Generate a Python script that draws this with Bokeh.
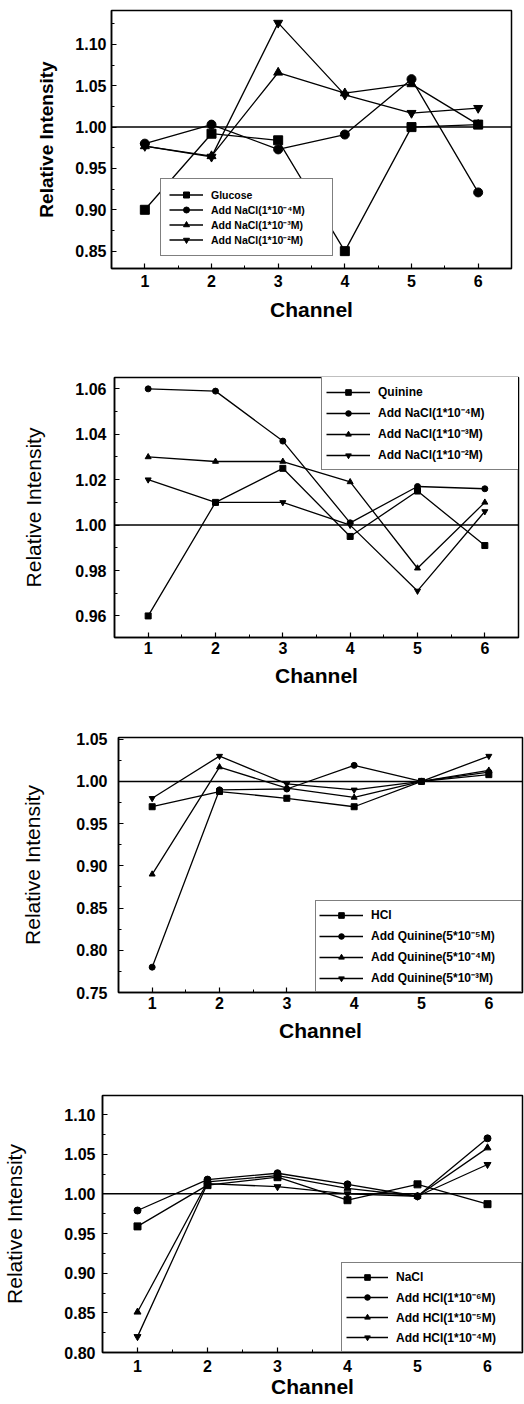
from bokeh.plotting import figure
from bokeh.models import Span, Legend, LegendItem, FixedTicker, NumeralTickFormatter, Range1d
from bokeh.embed import file_html
from bokeh.resources import INLINE

# ---------------- data ----------------
channels = [1, 2, 3, 4, 5, 6]
x_minor = [1.5, 2.5, 3.5, 4.5, 5.5]

# Panel 1: Glucose
p1_labels = ["Glucose", "Add NaCl(1*10⁻⁴M)", "Add NaCl(1*10⁻³M)", "Add NaCl(1*10⁻²M)"]
glucose = [0.900, 0.992, 0.984, 0.850, 1.000, 1.003]
glucose_nacl_1e4 = [0.980, 1.003, 0.973, 0.991, 1.058, 0.921]
glucose_nacl_1e3 = [0.977, 0.965, 1.066, 1.041, 1.052, 1.003]
glucose_nacl_1e2 = [0.977, 0.964, 1.126, 1.039, 1.017, 1.023]
p1_yticks = [0.85, 0.90, 0.95, 1.00, 1.05, 1.10]
p1_yminor = [0.825, 0.875, 0.925, 0.975, 1.025, 1.075, 1.125]

# Panel 2: Quinine
p2_labels = ["Quinine", "Add NaCl(1*10⁻⁴M)", "Add NaCl(1*10⁻³M)", "Add NaCl(1*10⁻²M)"]
quinine = [0.960, 1.010, 1.025, 0.995, 1.015, 0.991]
quinine_nacl_1e4 = [1.060, 1.059, 1.037, 1.001, 1.017, 1.016]
quinine_nacl_1e3 = [1.030, 1.028, 1.028, 1.019, 0.981, 1.010]
quinine_nacl_1e2 = [1.020, 1.010, 1.010, 1.000, 0.971, 1.006]
p2_yticks = [0.96, 0.98, 1.00, 1.02, 1.04, 1.06]
p2_yminor = [0.95, 0.97, 0.99, 1.01, 1.03, 1.05]

# Panel 3: HCl
p3_labels = ["HCl", "Add Quinine(5*10⁻⁵M)", "Add Quinine(5*10⁻⁴M)", "Add Quinine(5*10⁻³M)"]
hcl = [0.970, 0.988, 0.980, 0.970, 1.000, 1.008]
hcl_quinine_5e5 = [0.780, 0.990, 0.991, 1.019, 1.000, 1.011]
hcl_quinine_5e4 = [0.890, 1.017, 0.992, 0.981, 1.000, 1.013]
hcl_quinine_5e3 = [0.980, 1.030, 0.997, 0.990, 1.000, 1.030]
p3_yticks = [0.75, 0.80, 0.85, 0.90, 0.95, 1.00, 1.05]
p3_yminor = [0.775, 0.825, 0.875, 0.925, 0.975, 1.025]

# Panel 4: NaCl
p4_labels = ["NaCl", "Add HCl(1*10⁻⁶M)", "Add HCl(1*10⁻⁵M)", "Add HCl(1*10⁻⁴M)"]
nacl = [0.959, 1.011, 1.021, 0.992, 1.012, 0.987]
nacl_hcl_1e6 = [0.979, 1.018, 1.026, 1.012, 0.997, 1.070]
nacl_hcl_1e5 = [0.851, 1.015, 1.023, 1.007, 0.997, 1.058]
nacl_hcl_1e4 = [0.820, 1.013, 1.009, 1.000, 0.997, 1.037]
p4_yticks = [0.80, 0.85, 0.90, 0.95, 1.00, 1.05, 1.10]
p4_yminor = [0.825, 0.875, 0.925, 0.975, 1.025, 1.075]

FONT = "Liberation Sans"
MARKERS = ["square", "circle", "triangle", "inverted_triangle"]


def make_panel(series, labels, yticks, yminor, yrange, cfg):
    left, right, top, bottom = cfg["borders"]
    p = figure(width=524, height=cfg["height"],
               x_range=Range1d(start=0.5, end=6.5),
               y_range=Range1d(start=yrange[0], end=yrange[1]),
               output_backend="svg", toolbar_location=None, tools="",
               min_border_left=left, min_border_right=right,
               min_border_top=top, min_border_bottom=bottom)
    p.grid.visible = False
    p.outline_line_color = "black"
    p.outline_line_width = 1.5
    p.background_fill_color = "white"
    p.border_fill_color = "white"
    p.add_layout(Span(location=1.0, dimension="width", line_color="black", line_width=1.5))

    items = []
    for ys, name, mk in zip(series, labels, MARKERS):
        r1 = p.line(channels, ys, line_color="black", line_width=1.3)
        r2 = p.scatter(channels, ys, marker=mk, size=cfg["msize"],
                       fill_color="black", line_color="black")
        items.append(LegendItem(label=name, renderers=[r1, r2]))

    xa = p.xaxis[0]
    ya = p.yaxis[0]
    xa.ticker = FixedTicker(ticks=channels, minor_ticks=x_minor)
    ya.ticker = FixedTicker(ticks=yticks, minor_ticks=yminor)
    ya.formatter = NumeralTickFormatter(format="0.00")
    for ax in (xa, ya):
        ax.axis_line_width = 1.5
        ax.major_tick_in = 5
        ax.major_tick_out = 0
        ax.minor_tick_in = 3
        ax.minor_tick_out = 0
        ax.major_tick_line_width = 1.2
        ax.major_label_text_font = FONT
        ax.major_label_text_font_style = "bold"
        ax.major_label_text_font_size = "16px"
        ax.major_label_text_color = "black"
        ax.axis_label_text_font = FONT
        ax.axis_label_text_color = "black"
    xa.axis_label = "Channel"
    ya.axis_label = "Relative Intensity"
    xa.major_label_standoff = cfg["xstand"]
    ya.major_label_standoff = cfg["ystand"]
    xa.axis_label_standoff = cfg["xlab_stand"]
    ya.axis_label_standoff = cfg["ylab_stand"]
    xa.axis_label_text_font_size = cfg["xlab_size"]
    ya.axis_label_text_font_size = cfg["ylab_size"]
    xa.axis_label_text_font_style = cfg["xlab_style"]
    ya.axis_label_text_font_style = cfg["ylab_style"]

    lg = cfg["legend"]
    leg = Legend(items=items, location=lg["loc"], padding=lg["pad"], spacing=0,
                 glyph_width=lg["gw"], glyph_height=lg["gh"], label_height=lg["h"],
                 label_width=lg["lw"], label_standoff=lg["stand"],
                 label_text_font=FONT, label_text_font_style="bold",
                 label_text_font_size=lg["fs"], label_text_color="black",
                 border_line_color="black", border_line_width=1.5,
                 background_fill_color="white", background_fill_alpha=1.0, margin=0)
    p.add_layout(leg, "center")
    return p


p1 = make_panel([glucose, glucose_nacl_1e4, glucose_nacl_1e3, glucose_nacl_1e2], p1_labels,
                p1_yticks, p1_yminor, (0.829, 1.141),
                dict(height=330, borders=(111, 13, 10, 62), msize=9,
                     xstand=6, ystand=5, xlab_stand=8, ylab_stand=15,
                     xlab_size="21px", ylab_size="19px", xlab_style="bold", ylab_style="bold",
                     legend=dict(loc=(49, 12), pad=8, gw=34, gh=15, h=15, lw=113, stand=8, fs="10.5px")))

p2 = make_panel([quinine, quinine_nacl_1e4, quinine_nacl_1e3, quinine_nacl_1e2], p2_labels,
                p2_yticks, p2_yminor, (0.9505, 1.065),
                dict(height=364, borders=(114, 6, 47, 57), msize=6,
                     xstand=4, ystand=8, xlab_stand=7, ylab_stand=27,
                     xlab_size="21px", ylab_size="21px", xlab_style="bold", ylab_style="normal",
                     legend=dict(loc=(207, 167), pad=4, gw=44, gh=14, h=21, lw=137, stand=8, fs="12px")))

p3 = make_panel([hcl, hcl_quinine_5e5, hcl_quinine_5e4, hcl_quinine_5e3], p3_labels,
                p3_yticks, p3_yminor, (0.75, 1.052),
                dict(height=354, borders=(118, 2, 43, 56), msize=6,
                     xstand=4, ystand=11, xlab_stand=7, ylab_stand=29,
                     xlab_size="21px", ylab_size="21px", xlab_style="bold", ylab_style="normal",
                     legend=dict(loc=(197, 0), pad=3, gw=44, gh=14, h=21, lw=147, stand=8, fs="12px")))

p4 = make_panel([nacl, nacl_hcl_1e6, nacl_hcl_1e5, nacl_hcl_1e4], p4_labels,
                p4_yticks, p4_yminor, (0.80, 1.124),
                dict(height=356, borders=(102, 2, 47, 52), msize=7,
                     xstand=7, ystand=7, xlab_stand=0, ylab_stand=35,
                     xlab_size="21px", ylab_size="21px", xlab_style="bold", ylab_style="normal",
                     legend=dict(loc=(239, 0), pad=4, gw=42, gh=14, h=20, lw=121, stand=8, fs="12px")))

open("out.html", "w").write(file_html([p1, p2, p3, p4], INLINE))
